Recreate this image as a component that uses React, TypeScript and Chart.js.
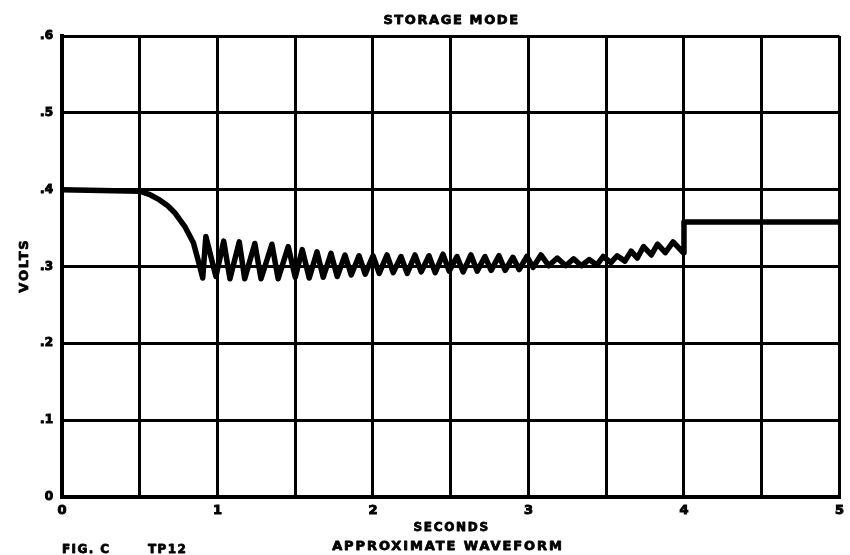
import { useEffect, useRef } from "react";
import { Chart, registerables } from "chart.js";

Chart.register(...registerables);

// Waveform (time in seconds, level in volts)
const seconds = [
  0.0, 0.25, 0.5, 0.56, 0.625, 0.68, 0.725, 0.79, 0.845, 0.88, 0.905,
  0.925, 0.99, 1.04, 1.08, 1.14, 1.175, 1.24, 1.28, 1.35, 1.39, 1.455,
  1.5, 1.545, 1.59, 1.64, 1.68, 1.73, 1.77, 1.82, 1.86, 1.91, 1.95,
  2.0, 2.04, 2.09, 2.13, 2.18, 2.22, 2.27, 2.31, 2.36, 2.4, 2.45, 2.49,
  2.54, 2.58, 2.63, 2.67, 2.72, 2.76, 2.81, 2.85, 2.9, 2.94, 2.99,
  3.03, 3.08, 3.13, 3.185, 3.24, 3.29, 3.34, 3.39, 3.44, 3.48,
  3.53, 3.57, 3.62, 3.66, 3.7, 3.74, 3.79, 3.83, 3.88, 3.93, 3.995,
  4.0, 5.0,
];
const volts = [
  0.4, 0.399, 0.398, 0.394, 0.387, 0.379, 0.37, 0.352, 0.331, 0.305, 0.285,
  0.339, 0.287, 0.333, 0.284, 0.332, 0.284, 0.33, 0.284, 0.329, 0.284, 0.326,
  0.286, 0.322, 0.285, 0.319, 0.286, 0.317, 0.287, 0.315, 0.289, 0.314, 0.29,
  0.314, 0.291, 0.315, 0.292, 0.313, 0.291, 0.315, 0.293, 0.314, 0.292, 0.316, 0.294,
  0.313, 0.293, 0.315, 0.294, 0.313, 0.295, 0.314, 0.295, 0.312, 0.296, 0.313,
  0.299, 0.315, 0.301, 0.311, 0.301, 0.31, 0.301, 0.309, 0.302, 0.313,
  0.305, 0.314, 0.307, 0.32, 0.311, 0.326, 0.315, 0.329, 0.318, 0.332, 0.318,
  0.358, 0.358,
];

const xTickLabels = ["0", "1", "2", "3", "4", "5"];
const yTickLabels = ["0", ".1", ".2", ".3", ".4", ".5", ".6"];

const TITLE = "STORAGE MODE";
const X_TITLE = "SECONDS";
const Y_TITLE = "VOLTS";
const CAPTION = "APPROXIMATE WAVEFORM";
const FIG_LABEL = "FIG. C";
const POINT_LABEL = "TP12";

const FONT = "DejaVu Sans";

function heavyText(
  ctx: CanvasRenderingContext2D,
  text: string,
  x: number,
  y: number,
  size: number,
  spacing: number,
  align: CanvasTextAlign,
  stroke: number
) {
  ctx.font = `bold ${size}px "${FONT}"`;
  (ctx as any).letterSpacing = `${spacing}px`;
  ctx.textAlign = align;
  const dx = align === "center" ? spacing / 2 : 0;
  ctx.fillText(text, x + dx, y);
  if (stroke > 0) {
    ctx.lineWidth = stroke;
    ctx.strokeText(text, x + dx, y);
  }
}

export default function App() {
  const ref = useRef<HTMLCanvasElement>(null);

  useEffect(() => {
    document.body.style.margin = "0";
    const canvas = ref.current;
    if (!canvas) return;

    const textPlugin = {
      id: "paperText",
      afterDraw(chart: any) {
        const ctx: CanvasRenderingContext2D = chart.ctx;
        const area = chart.chartArea;
        const cx = (area.left + area.right) / 2;
        const cy = (area.top + area.bottom) / 2;
        ctx.save();
        ctx.fillStyle = "#000";
        ctx.strokeStyle = "#000";
        ctx.lineJoin = "round";
        ctx.textBaseline = "alphabetic";
        heavyText(ctx, TITLE, cx, 24, 13, 1.6, "center", 0.8);
        heavyText(ctx, X_TITLE, cx, 530.5, 12, 1.7, "center", 0.8);
        heavyText(ctx, CAPTION, 447, 550, 13, 1.9, "center", 0.8);
        heavyText(ctx, FIG_LABEL, 62, 553, 12, 1.4, "left", 0.8);
        heavyText(ctx, POINT_LABEL, 148, 553, 12, 1.4, "left", 0.8);
        ctx.save();
        ctx.translate(25, cy);
        ctx.rotate(-Math.PI / 2);
        ctx.textBaseline = "middle";
        heavyText(ctx, Y_TITLE, 0, 0, 13, 1.8, "center", 0.8);
        ctx.restore();
        ctx.restore();
      },
    };

    const chart = new Chart(canvas, {
      type: "line",
      data: {
        datasets: [
          {
            data: seconds.map((t, i) => ({ x: t, y: volts[i] })),
            borderColor: "#000",
            borderWidth: 5.5,
            pointRadius: 0,
            tension: 0,
            fill: false,
            borderJoinStyle: "round",
            borderCapStyle: "round",
          },
        ],
      },
      options: {
        animation: false,
        responsive: false,
        devicePixelRatio: 1,
        layout: { padding: { left: 0, right: 4, top: 36, bottom: 0 } },
        plugins: {
          legend: { display: false },
          tooltip: { enabled: false },
          title: { display: false },
        },
        scales: {
          x: {
            type: "linear",
            min: 0,
            max: 5,
            ticks: {
              stepSize: 0.5,
              autoSkip: false,
              maxRotation: 0,
              color: "#000",
              padding: 6,
              textStrokeColor: "#000",
              textStrokeWidth: 1,
              font: { family: FONT, size: 13, weight: "bold" },
              callback: (v: any) => {
                const n = Number(v);
                return Number.isInteger(n) ? xTickLabels[n] : "";
              },
            },
            grid: { color: "#000", lineWidth: 3, drawTicks: false },
            border: { display: true, color: "#000", width: 4 },
            title: { display: false },
            afterFit: (s: any) => {
              s.height = 58;
            },
          },
          y: {
            type: "linear",
            min: 0,
            max: 0.6,
            ticks: {
              stepSize: 0.1,
              autoSkip: false,
              color: "#000",
              padding: 9,
              textStrokeColor: "#000",
              textStrokeWidth: 1,
              font: { family: FONT, size: 12, weight: "bold" },
              callback: (v: any) => yTickLabels[Math.round(Number(v) * 10)] ?? "",
            },
            grid: { color: "#000", lineWidth: 3, drawTicks: false },
            border: { display: true, color: "#000", width: 4 },
            title: { display: false },
            afterFit: (s: any) => {
              s.width = 62;
            },
          },
        },
      } as any,
      plugins: [textPlugin],
    });

    return () => chart.destroy();
  }, []);

  return (
    <canvas
      ref={ref}
      width={850}
      height={555}
      style={{ display: "block", width: 850, height: 555 }}
    />
  );
}
